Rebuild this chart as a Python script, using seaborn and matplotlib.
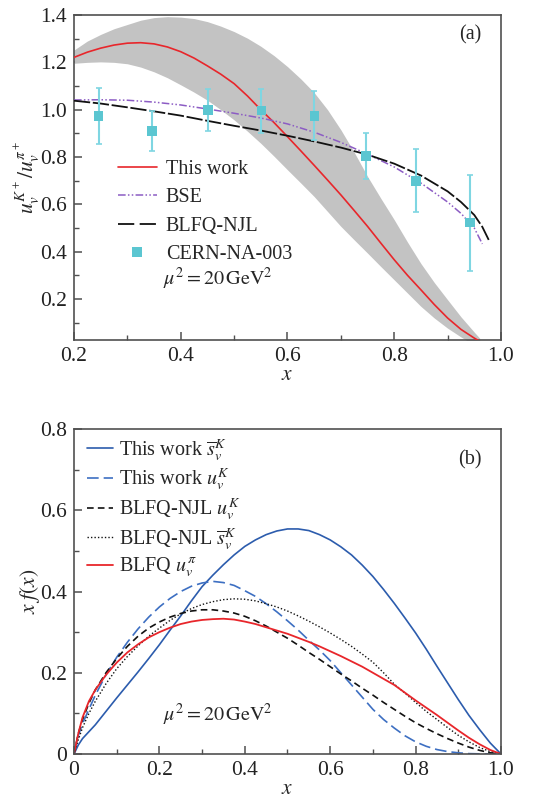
import numpy as np
import pandas as pd
import matplotlib
matplotlib.use('Agg')
import matplotlib.pyplot as plt
import seaborn as sns
from matplotlib.lines import Line2D
from matplotlib.ticker import MultipleLocator, FuncFormatter

#%%
# panel (a): ratio u_v^K / u_v^pi
x_a = [0.200, 0.225, 0.250, 0.275, 0.300, 0.325, 0.350, 0.375, 0.400, 0.425, 0.450, 0.475,
       0.500, 0.525, 0.550, 0.575, 0.600, 0.625, 0.650, 0.675, 0.700, 0.725, 0.750, 0.775,
       0.800, 0.825, 0.850, 0.875, 0.900, 0.925, 0.950, 0.960]
this_work_a = [1.221, 1.243, 1.260, 1.273, 1.281, 1.283, 1.278, 1.265, 1.245, 1.218, 1.185, 1.150,
               1.110, 1.058, 1.000, 0.945, 0.886, 0.826, 0.765, 0.703, 0.640, 0.574, 0.507, 0.436,
               0.366, 0.300, 0.239, 0.177, 0.120, 0.072, 0.035, 0.022]
band_up = [1.252, 1.290, 1.318, 1.342, 1.360, 1.378, 1.389, 1.393, 1.391, 1.385, 1.372, 1.353,
           1.330, 1.302, 1.268, 1.228, 1.182, 1.130, 1.072, 1.000, 0.915, 0.820, 0.718, 0.625,
           0.535, 0.440, 0.350, 0.270, 0.197, 0.125, 0.060, 0.035]
band_lo = [1.196, 1.200, 1.202, 1.200, 1.194, 1.180, 1.160, 1.135, 1.105, 1.074, 1.040, 1.000,
           0.957, 0.909, 0.858, 0.803, 0.746, 0.690, 0.633, 0.570, 0.507, 0.450, 0.394, 0.337,
           0.281, 0.225, 0.169, 0.120, 0.077, 0.040, 0.005, -0.010]

x_bse = [0.20, 0.25, 0.30, 0.35, 0.40, 0.45, 0.50, 0.55, 0.60, 0.65, 0.70, 0.75, 0.80, 0.85, 0.90, 0.925, 0.95, 0.965]
bse = [1.041, 1.042, 1.040, 1.032, 1.020, 1.003, 0.985, 0.965, 0.940, 0.905, 0.862, 0.812, 0.758, 0.690, 0.610, 0.562, 0.500, 0.433]

x_njl = [0.20, 0.25, 0.30, 0.35, 0.40, 0.45, 0.50, 0.55, 0.60, 0.65, 0.70, 0.75, 0.80, 0.85, 0.90, 0.925, 0.95, 0.965, 0.977]
blfq_njl = [1.038, 1.026, 1.010, 0.993, 0.975, 0.953, 0.932, 0.912, 0.890, 0.866, 0.840, 0.810, 0.772, 0.722, 0.655, 0.610, 0.555, 0.505, 0.450]

x_cern = [0.246, 0.346, 0.451, 0.551, 0.650, 0.747, 0.841, 0.942]
y_cern = [0.974, 0.910, 0.999, 0.996, 0.974, 0.805, 0.699, 0.523]
err_cern = [0.117, 0.084, 0.087, 0.093, 0.103, 0.098, 0.133, 0.203]

#%%
# panel (b): x f(x)
x_b = [0.0, 0.01, 0.02, 0.035, 0.05, 0.075, 0.100, 0.125, 0.150, 0.175, 0.200, 0.225, 0.250, 0.275,
       0.300, 0.325, 0.350, 0.375, 0.400, 0.425, 0.450, 0.475, 0.500, 0.525, 0.550, 0.575,
       0.600, 0.625, 0.650, 0.675, 0.700, 0.725, 0.750, 0.775, 0.800, 0.825, 0.850, 0.875,
       0.900, 0.925, 0.950, 0.975, 1.0]
sbar_this = [0.0, 0.022, 0.038, 0.055, 0.072, 0.105, 0.138, 0.170, 0.202, 0.235, 0.269, 0.305, 0.340, 0.377,
             0.412, 0.440, 0.466, 0.490, 0.511, 0.527, 0.540, 0.549, 0.554, 0.554, 0.550, 0.540,
             0.527, 0.510, 0.490, 0.465, 0.437, 0.405, 0.371, 0.335, 0.298, 0.258, 0.216, 0.175,
             0.134, 0.095, 0.060, 0.027, 0.0]
u_this = [0.0, 0.045, 0.075, 0.110, 0.145, 0.195, 0.238, 0.275, 0.308, 0.337, 0.362, 0.383, 0.400, 0.413,
          0.421, 0.425, 0.422, 0.415, 0.402, 0.388, 0.370, 0.350, 0.328, 0.305, 0.280, 0.256,
          0.230, 0.200, 0.170, 0.140, 0.110, 0.085, 0.064, 0.045, 0.030, 0.019, 0.011, 0.006,
          0.003, 0.001, 0.0005, 0.0, 0.0]
u_njl = [0.0, 0.050, 0.085, 0.125, 0.158, 0.200, 0.235, 0.265, 0.290, 0.310, 0.325, 0.337, 0.346, 0.352,
         0.355, 0.355, 0.352, 0.347, 0.339, 0.328, 0.315, 0.300, 0.285, 0.268, 0.250, 0.233,
         0.215, 0.197, 0.180, 0.162, 0.145, 0.127, 0.110, 0.093, 0.077, 0.063, 0.050, 0.038,
         0.027, 0.017, 0.009, 0.003, 0.0]
sbar_njl = [0.0, 0.035, 0.065, 0.100, 0.130, 0.173, 0.210, 0.240, 0.266, 0.290, 0.310, 0.329, 0.345, 0.358,
            0.368, 0.375, 0.380, 0.382, 0.381, 0.377, 0.370, 0.362, 0.352, 0.340, 0.327, 0.313,
            0.298, 0.282, 0.265, 0.246, 0.226, 0.200, 0.172, 0.150, 0.127, 0.105, 0.085, 0.065,
            0.046, 0.030, 0.016, 0.006, 0.0]
u_pi = [0.0, 0.050, 0.090, 0.130, 0.158, 0.195, 0.225, 0.250, 0.270, 0.287, 0.300, 0.311, 0.320, 0.326,
        0.330, 0.332, 0.333, 0.331, 0.326, 0.320, 0.312, 0.304, 0.296, 0.286, 0.276, 0.265,
        0.253, 0.241, 0.228, 0.215, 0.200, 0.185, 0.170, 0.151, 0.132, 0.114, 0.096, 0.077,
        0.058, 0.040, 0.024, 0.010, 0.0]

#%%
sns.set_theme(style='ticks')
plt.rcParams['font.family'] = ['Liberation Serif', 'DejaVu Serif']
plt.rcParams['mathtext.fontset'] = 'stix'
plt.rcParams['axes.edgecolor'] = '#505050'
plt.rcParams['xtick.color'] = '#505050'
plt.rcParams['ytick.color'] = '#505050'
plt.rcParams['xtick.labelcolor'] = '#222222'
plt.rcParams['ytick.labelcolor'] = '#222222'

fs_tick = 15.5
fs = 14.5
red = '#e8262b'
purple = '#8c5cc4'
cyan = '#5bc6d1'
blue = '#2c5cad'
blue2 = '#3d6fc2'


def style_axes(ax):
    for side in ['top', 'right', 'left', 'bottom']:
        ax.spines[side].set_visible(True)
        ax.spines[side].set_linewidth(1.2)
    ax.tick_params(which='both', direction='in', top=False, right=False, labelsize=fs_tick)
    ax.tick_params(which='major', length=6, width=1.1, pad=5)
    ax.tick_params(which='minor', length=3.5, width=1.0)
    ax.xaxis.set_minor_locator(MultipleLocator(0.1))
    ax.yaxis.set_minor_locator(MultipleLocator(0.1))


fmt = FuncFormatter(lambda v, p: '0' if abs(v) < 1e-9 else f'{v:.1f}')

fig = plt.figure(figsize=(5.55, 7.98), dpi=100)
ax1 = fig.add_axes([0.1333, 0.5739, 0.7694, 0.4073])
ax2 = fig.add_axes([0.1333, 0.0551, 0.7694, 0.4073])

#%%
# (a)
ax1.fill_between(x_a, band_lo, band_up, color='#c3c3c3', lw=0, zorder=1)
sns.lineplot(x=x_a, y=this_work_a, ax=ax1, color=red, lw=1.2, zorder=3)
sns.lineplot(x=x_bse, y=bse, ax=ax1, color=purple, lw=1.1, linestyle=(0, (5, 1.5, 1, 1.5, 1, 1.5)), zorder=3)
sns.lineplot(x=x_njl, y=blfq_njl, ax=ax1, color='#111111', lw=1.3, linestyle=(0, (9, 1.5)), zorder=3)
ax1.errorbar(x_cern, y_cern, yerr=err_cern, fmt='none', ecolor='#7fd6e2', elinewidth=1.5,
             capsize=2.5, capthick=1.2, zorder=4)
sns.scatterplot(x=x_cern, y=y_cern, ax=ax1, marker='s', s=45, color=cyan, edgecolor='none', zorder=5)

ax1.set_xlim(0.2, 1.0)
ax1.set_ylim(0.027, 1.4)
ax1.xaxis.set_major_locator(MultipleLocator(0.2))
ax1.yaxis.set_major_locator(MultipleLocator(0.2))
ax1.xaxis.set_major_formatter(fmt)
ax1.yaxis.set_major_formatter(fmt)
style_axes(ax1)
ax1.set_xlabel('$x$', fontsize=fs + 1, labelpad=0)
ax1.set_ylabel('$u_v^{K^+}/u_v^{\\pi^+}$', fontsize=fs + 1)
ax1.yaxis.set_label_coords(-0.076, 0.5)
ax1.text(0.955, 0.94, '(a)', transform=ax1.transAxes, ha='right', va='center', fontsize=fs)

handles_a = [
    Line2D([], [], color=red, lw=1.2),
    Line2D([], [], color=purple, lw=1.1, linestyle=(0, (5, 1.5, 1, 1.5, 1, 1.5))),
    Line2D([], [], color='#111111', lw=1.3, linestyle=(0, (9, 3))),
    Line2D([], [], color=cyan, marker='s', markersize=7, linestyle='none', markeredgewidth=0),
]
ax1.legend(handles_a, ['This work', 'BSE', 'BLFQ-NJL', 'CERN-NA-003'], frameon=False, fontsize=fs,
           loc='upper left', bbox_to_anchor=(0.085, 0.578), handlelength=1.9, handletextpad=0.45,
           labelspacing=0.45, borderaxespad=0)
ax1.text(0.367, 0.285, '$\\mu^2 = 20\\,\\mathrm{GeV}^2$', fontsize=fs, ha='left', va='center')

#%%
# (b)
sns.lineplot(x=x_b, y=sbar_this, ax=ax2, color=blue, lw=1.2)
sns.lineplot(x=x_b, y=u_this, ax=ax2, color=blue2, lw=1.2, linestyle=(0, (7, 3)))
sns.lineplot(x=x_b, y=u_njl, ax=ax2, color='#111111', lw=1.2, linestyle=(0, (4, 2.5)))
sns.lineplot(x=x_b, y=sbar_njl, ax=ax2, color='#111111', lw=1.0, linestyle=(0, (1, 1.5)))
sns.lineplot(x=x_b, y=u_pi, ax=ax2, color=red, lw=1.3)

ax2.set_xlim(0, 1.0)
ax2.set_ylim(0, 0.8)
ax2.xaxis.set_major_locator(MultipleLocator(0.2))
ax2.yaxis.set_major_locator(MultipleLocator(0.2))
ax2.xaxis.set_major_formatter(fmt)
ax2.yaxis.set_major_formatter(fmt)
style_axes(ax2)
ax2.set_xlabel('$x$', fontsize=fs + 1, labelpad=0)
ax2.set_ylabel('$x\\;f(x)$', fontsize=fs + 1)
ax2.yaxis.set_label_coords(-0.076, 0.5)
ax2.text(0.955, 0.905, '(b)', transform=ax2.transAxes, ha='right', va='center', fontsize=fs)

handles_b = [
    Line2D([], [], color=blue, lw=1.2),
    Line2D([], [], color=blue2, lw=1.2, linestyle=(0, (7, 3))),
    Line2D([], [], color='#111111', lw=1.2, linestyle=(0, (4, 2.5))),
    Line2D([], [], color='#111111', lw=1.0, linestyle=(0, (1, 1.5))),
    Line2D([], [], color=red, lw=1.3),
]
labels_b = ['This work $\\overline{s}_v^K$', 'This work $u_v^K$', 'BLFQ-NJL $u_v^K$',
            'BLFQ-NJL $\\overline{s}_v^K$', 'BLFQ $u_v^{\\pi}$']
ax2.legend(handles_b, labels_b, frameon=False, fontsize=fs, loc='upper left',
           bbox_to_anchor=(0.012, 1.0), handlelength=1.3, handletextpad=0.3,
           labelspacing=0.2, borderaxespad=0)
ax2.text(0.208, 0.096, '$\\mu^2 = 20\\,\\mathrm{GeV}^2$', fontsize=fs, ha='left', va='center')

plt.savefig('out.png', dpi=100)
